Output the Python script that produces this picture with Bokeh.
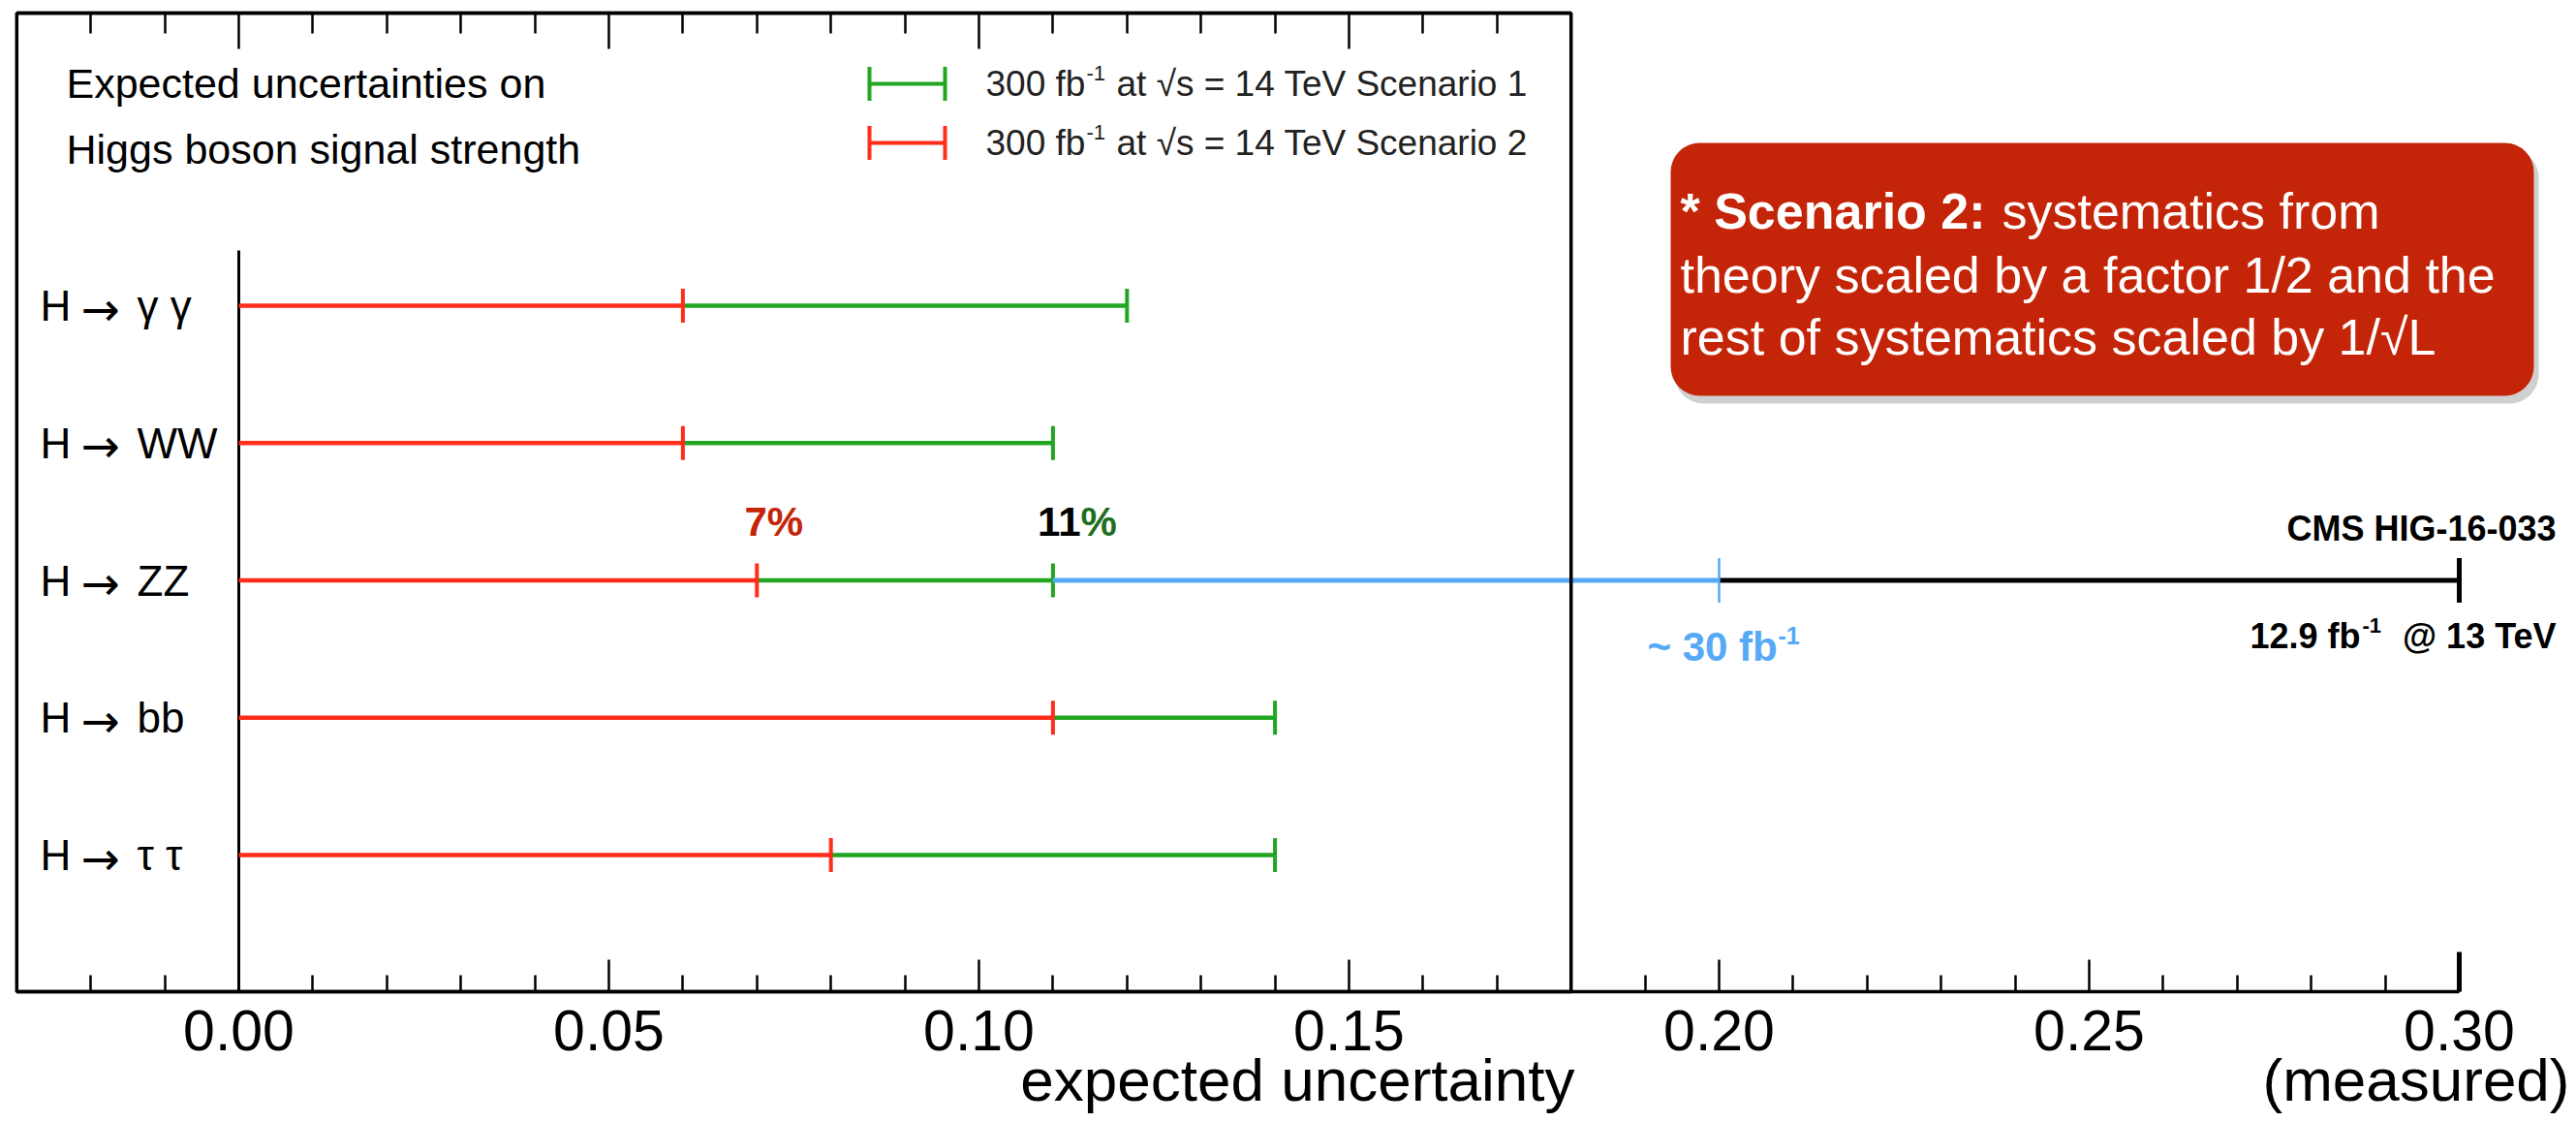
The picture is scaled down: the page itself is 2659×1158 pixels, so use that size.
import numpy as np
from bokeh.plotting import figure
from bokeh.models import Range1d, LinearAxis, FixedTicker, BoxAnnotation, Label, CustomJSTickFormatter
from bokeh.core.properties import value
from bokeh.embed import file_html
from bokeh.resources import INLINE

# ---------------- data ----------------
categories = ["H → γ γ", "H → WW", "H → ZZ", "H → bb", "H → τ τ"]
scenario2 = [0.06, 0.06, 0.07, 0.11, 0.08]   # 300 fb-1, Scenario 2 (red)
scenario1 = [0.12, 0.11, 0.11, 0.14, 0.14]   # 300 fb-1, Scenario 1 (green)
proj_category = "H → ZZ"
proj_30fb = 0.20        # ~30 fb-1 (blue)
measured_129fb = 0.30   # CMS HIG-16-033, 12.9 fb-1 @ 13 TeV
major_ticks = [0.00, 0.05, 0.10, 0.15, 0.20, 0.25, 0.30]
tick_labels = ["0.00", "0.05", "0.10", "0.15", "0.20", "0.25", "0.30"]
minor_ticks = [-0.02, -0.01, 0.01, 0.02, 0.03, 0.04, 0.06, 0.07, 0.08, 0.09,
               0.11, 0.12, 0.13, 0.14, 0.16, 0.17, 0.18, 0.19, 0.21, 0.22,
               0.23, 0.24, 0.26, 0.27, 0.28, 0.29]
box_ticks = [0.00, 0.05, 0.10, 0.15]
box_minor = [-0.02, -0.01, 0.01, 0.02, 0.03, 0.04, 0.06, 0.07, 0.08, 0.09,
             0.11, 0.12, 0.13, 0.14, 0.16, 0.17]

# ---------------- layout helpers (pixel -> data) ----------------
PX0, PXU = 246.0, 7640.0
ROW0, ROWH = 315.0, 141.75
W, H = 2659, 1158
TOP, BOT = 13, 1023


def X(px):
    return (px - PX0) / PXU


def Y(py):
    return (py - ROW0) / ROWH


FONT = "Liberation Sans"
RED = "#FF2D1A"
GREEN = "#22A622"
BLUE = "#55A9F5"
DARKRED = "#C42508"
DARKGREEN = "#1E6E1E"

p = figure(width=W, height=H,
           x_range=Range1d(X(0), X(W)), y_range=Range1d(Y(H), Y(0)),
           output_backend="svg", toolbar_location=None,
           x_axis_location=None, y_axis_location=None,
           min_border_left=0, min_border_right=0,
           min_border_top=0, min_border_bottom=0,
           outline_line_color=None,
           background_fill_color="white", border_fill_color="white")
p.grid.visible = False

# ---------------- axes ----------------
bottom = LinearAxis(fixed_location=Y(BOT), bounds=(-0.03, 0.30),
                    ticker=FixedTicker(ticks=major_ticks, minor_ticks=minor_ticks),
                    major_label_overrides={t: l for t, l in zip(major_ticks, tick_labels)},
                    major_tick_in=33, major_tick_out=0,
                    minor_tick_in=17, minor_tick_out=0,
                    axis_line_width=3.5, axis_line_color="black",
                    major_tick_line_width=2.5, minor_tick_line_width=2.5,
                    major_label_text_font=FONT, major_label_text_font_size="59px",
                    major_label_text_color="black", major_label_standoff=19)
p.add_layout(bottom, "below")

top = LinearAxis(fixed_location=Y(TOP), bounds=(-0.03, 0.18),
                 ticker=FixedTicker(ticks=box_ticks, minor_ticks=box_minor),
                 formatter=CustomJSTickFormatter(code="return ''"),
                 major_tick_in=37, major_tick_out=0,
                 minor_tick_in=21, minor_tick_out=0,
                 axis_line_width=3.5, axis_line_color="black",
                 major_tick_line_width=2.5, minor_tick_line_width=2.5,
                 major_label_text_font_size="1px", major_label_standoff=0)
p.add_layout(top, "above")

# frame box of the original plot
p.add_layout(BoxAnnotation(left=-0.03, right=0.18, top=Y(TOP), bottom=Y(BOT),
                           fill_alpha=0, fill_color=None,
                           line_color="black", line_alpha=1.0, line_width=3.5))

# y axis line at x = 0
p.segment(x0=[0.0], y0=[Y(258)], x1=[0.0], y1=[Y(BOT)], line_color="black", line_width=3)

# ---------------- data marks ----------------
rows = np.arange(len(categories), dtype=float)
CAP = 17.5 / ROWH

p.segment(x0=scenario2, y0=rows, x1=scenario1, y1=rows, line_color=GREEN, line_width=4.5)
p.segment(x0=scenario1, y0=rows - CAP, x1=scenario1, y1=rows + CAP, line_color=GREEN, line_width=4)
p.segment(x0=[0.0] * len(rows), y0=rows, x1=scenario2, y1=rows, line_color=RED, line_width=4.5)
p.segment(x0=scenario2, y0=rows - CAP, x1=scenario2, y1=rows + CAP, line_color=RED, line_width=4)

zi = categories.index(proj_category)
CAP2 = 23.0 / ROWH
p.segment(x0=[scenario1[zi]], y0=[zi], x1=[proj_30fb], y1=[zi], line_color=BLUE, line_width=5)
p.segment(x0=[proj_30fb], y0=[zi], x1=[measured_129fb], y1=[zi], line_color="black", line_width=5)
p.segment(x0=[proj_30fb], y0=[zi - CAP2], x1=[proj_30fb], y1=[zi + CAP2], line_color=BLUE, line_width=2.5)
p.segment(x0=[measured_129fb], y0=[zi - CAP2], x1=[measured_129fb], y1=[zi + CAP2],
          line_color="black", line_width=5)

# thick end tick at 0.30 on the axis
p.segment(x0=[major_ticks[-1]], y0=[Y(982)], x1=[major_ticks[-1]], y1=[Y(BOT)],
          line_color="black", line_width=5)

# category labels: "H", arrow, decay products
parts = [c.split(" → ") for c in categories]
n = len(rows)
p.text(x=[X(41)] * n, y=rows, text=[a for a, b in parts],
       text_font=value(FONT), text_font_size="44px", text_color="black",
       text_baseline="middle", text_align="left")
p.text(x=[X(103)] * n, y=rows + 3.0 / ROWH, text=["→"] * n,
       text_font=value("DejaVu Sans"), text_font_size="48px", text_color="black",
       text_baseline="middle", text_align="center")
p.text(x=[X(141)] * n, y=rows, text=[b for a, b in parts],
       text_font=value(FONT), text_font_size="44px", text_color="black",
       text_baseline="middle", text_align="left")


def lab(x, y, text, size, color="black", bold=False, align="left", font=FONT):
    p.add_layout(Label(x=x, y=y, text=text, text_font=font, text_font_size=size,
                       text_color=color, text_font_style="bold" if bold else "normal",
                       text_align=align, text_baseline="middle"))


# ---------------- legend ----------------
lab(X(68), Y(85), "Expected uncertainties on", "43px")
lab(X(68), Y(153), "Higgs boson signal strength", "43px")
LCAP = 17.5 / ROWH
for ly, col, scen in [(86, GREEN, "1"), (147, RED, "2")]:
    p.segment(x0=[X(897)], y0=[Y(ly)], x1=[X(975)], y1=[Y(ly)], line_color=col, line_width=4)
    p.segment(x0=[X(897), X(975)], y0=[Y(ly) - LCAP] * 2, x1=[X(897), X(975)],
              y1=[Y(ly) + LCAP] * 2, line_color=col, line_width=4)
    lab(X(1017), Y(ly), "300 fb", "37px", "#222222")
    lab(X(1121), Y(ly - 11), "-1", "22px", "#222222")
    lab(X(1152), Y(ly), "at  √s = 14 TeV Scenario " + scen, "37px", "#222222")

# ---------------- annotations ----------------
lab(X(768), Y(538), "7%", "42px", DARKRED, bold=True)
lab(X(1115), Y(538), "11", "42px", "black", bold=True, align="right")
lab(X(1115), Y(538), "%", "42px", DARKGREEN, bold=True)

lab(X(1700), Y(667), "~ 30 fb", "42px", BLUE, bold=True)
lab(X(1835), Y(655), "-1", "25px", BLUE, bold=True)

lab(X(2638), Y(545), "CMS HIG-16-033", "36px", "black", bold=True, align="right")
lab(X(2322), Y(656), "12.9 fb", "36px", "black", bold=True)
lab(X(2438), Y(645), "-1", "22px", "black", bold=True)
lab(X(2638), Y(656), "@ 13 TeV", "36px", "black", bold=True, align="right")

# scenario box
p.add_layout(BoxAnnotation(left=X(1728), right=X(2620), top=Y(153), bottom=Y(416),
                           fill_color="#777777", fill_alpha=0.35, line_color=None,
                           border_radius=30))
p.add_layout(BoxAnnotation(left=X(1724), right=X(2615), top=Y(147), bottom=Y(408),
                           fill_color=DARKRED, fill_alpha=1.0, line_color=None,
                           border_radius=30))
lab(X(1734), Y(217), "* Scenario 2:", "52px", "white", bold=True)
lab(X(2066), Y(217), "systematics from", "52px", "white")
lab(X(1734), Y(283), "theory scaled by a factor 1/2 and the", "52px", "white")
lab(X(1734), Y(347), "rest of systematics scaled by 1/√L", "52px", "white")

# axis titles
lab(X(1625), Y(1114), "expected uncertainty", "62px", align="right")
lab(X(2652), Y(1114), "(measured)", "62px", align="right")

open("out.html", "w").write(file_html(p, INLINE))
